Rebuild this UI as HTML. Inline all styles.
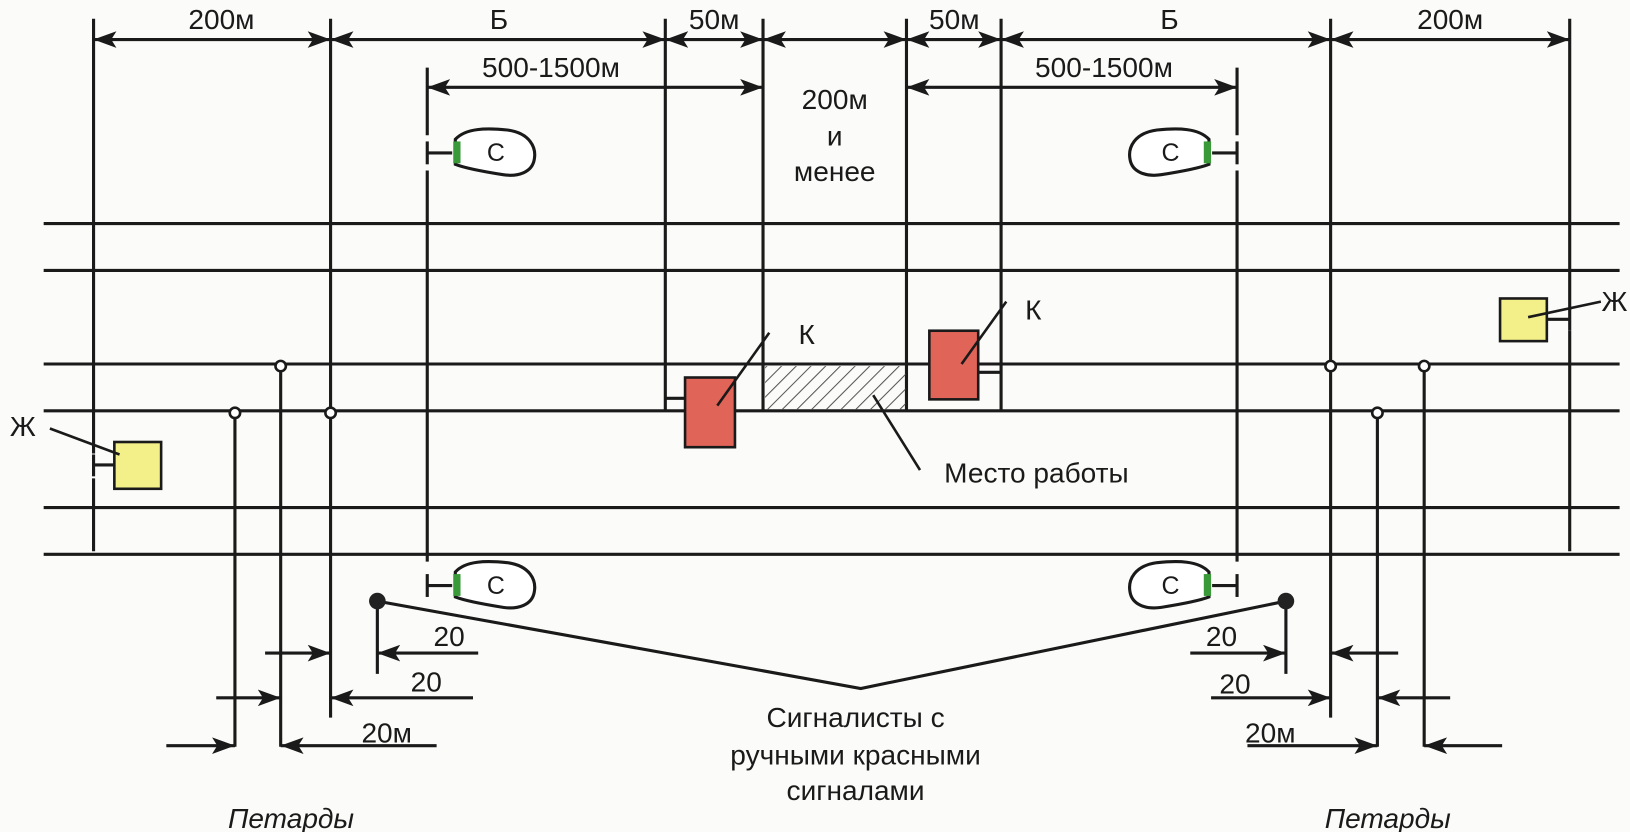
<!DOCTYPE html>
<html><head><meta charset="utf-8"><style>
html,body{margin:0;padding:0;background:#fbfbf9;}
svg{display:block;}
text{font-family:"Liberation Sans",sans-serif;fill:#1a1a1a;}
</style></head><body>
<svg width="1630" height="832" viewBox="0 0 1568 800" preserveAspectRatio="none" xmlns="http://www.w3.org/2000/svg">
<defs>
<marker id="a" viewBox="0 0 22 16" refX="22" refY="8" markerWidth="22" markerHeight="16" markerUnits="userSpaceOnUse" orient="auto-start-reverse"><path d="M0,0 L22,8 L0,16 L5,8 Z" fill="#1a1a1a"/></marker>
<pattern id="h" width="10" height="10" patternUnits="userSpaceOnUse" patternTransform="rotate(45)"><line x1="0" y1="0" x2="0" y2="10" stroke="#555" stroke-width="2"/></pattern>
<g id="sig">
<line x1="411" y1="147" x2="435" y2="147" stroke="#1a1a1a" stroke-width="3"/>
<line x1="411" y1="136" x2="411" y2="158" stroke="#1a1a1a" stroke-width="3"/>
<path d="M438,134 C448,123 468,123 488,125 C510,128 516,142 514,153 C512,166 498,170 484,168 C465,165 448,162 438,158 Z" fill="#fff" stroke="#1a1a1a" stroke-width="3"/>
<rect x="436" y="136" width="7" height="21" fill="#3a9a3a"/>
</g>
</defs>
<rect width="1568" height="800" fill="#fbfbf9"/>
<g stroke="#1a1a1a" stroke-width="3" fill="none">
<line x1="42" y1="215" x2="1558" y2="215"/>
<line x1="42" y1="260" x2="1558" y2="260"/>
<line x1="42" y1="350" x2="1558" y2="350"/>
<line x1="42" y1="395" x2="1558" y2="395"/>
<line x1="42" y1="488" x2="1558" y2="488"/>
<line x1="42" y1="533" x2="1558" y2="533"/>
<line x1="90" y1="18" x2="90" y2="436"/><line x1="90" y1="460" x2="90" y2="530"/>
<line x1="318" y1="18" x2="318" y2="690"/>
<line x1="411" y1="65" x2="411" y2="130"/><line x1="411" y1="164" x2="411" y2="540"/>
<line x1="640" y1="18" x2="640" y2="395"/>
<line x1="734" y1="18" x2="734" y2="395"/>
<line x1="872" y1="18" x2="872" y2="395"/>
<line x1="963" y1="18" x2="963" y2="395"/>
<line x1="1190" y1="65" x2="1190" y2="130"/><line x1="1190" y1="164" x2="1190" y2="540"/>
<line x1="1280" y1="18" x2="1280" y2="690"/>
<line x1="1510" y1="18" x2="1510" y2="298"/><line x1="1510" y1="318" x2="1510" y2="530"/>
<line x1="90" y1="38" x2="318" y2="38" marker-start="url(#a)" marker-end="url(#a)"/>
<line x1="318" y1="38" x2="640" y2="38" marker-start="url(#a)" marker-end="url(#a)"/>
<line x1="640" y1="38" x2="734" y2="38" marker-start="url(#a)" marker-end="url(#a)"/>
<line x1="734" y1="38" x2="872" y2="38" marker-start="url(#a)" marker-end="url(#a)"/>
<line x1="872" y1="38" x2="963" y2="38" marker-start="url(#a)" marker-end="url(#a)"/>
<line x1="963" y1="38" x2="1280" y2="38" marker-start="url(#a)" marker-end="url(#a)"/>
<line x1="1280" y1="38" x2="1510" y2="38" marker-start="url(#a)" marker-end="url(#a)"/>
<line x1="411" y1="84" x2="734" y2="84" marker-start="url(#a)" marker-end="url(#a)"/>
<line x1="872" y1="84" x2="1190" y2="84" marker-start="url(#a)" marker-end="url(#a)"/>
<line x1="640" y1="383" x2="659" y2="383"/>
<line x1="941" y1="358" x2="963" y2="358"/>
<line x1="90" y1="447" x2="110" y2="447"/>
<line x1="90" y1="437" x2="90" y2="458"/>
<line x1="1488" y1="307" x2="1510" y2="307"/>
<line x1="1510" y1="297" x2="1510" y2="318"/>
<line x1="226" y1="401" x2="226" y2="718"/>
<line x1="270" y1="357" x2="270" y2="718"/>
<line x1="1325" y1="401" x2="1325" y2="718"/>
<line x1="1370" y1="357" x2="1370" y2="718"/>
<line x1="363" y1="578" x2="363" y2="648"/>
<line x1="1237" y1="578" x2="1237" y2="648"/>
<polyline points="363,578 828,662 1237,578"/>
<line x1="255" y1="628" x2="318" y2="628" marker-end="url(#a)"/>
<line x1="460" y1="628" x2="363" y2="628" marker-end="url(#a)"/>
<line x1="208" y1="671" x2="270" y2="671" marker-end="url(#a)"/>
<line x1="455" y1="671" x2="318" y2="671" marker-end="url(#a)"/>
<line x1="160" y1="717" x2="226" y2="717" marker-end="url(#a)"/>
<line x1="420" y1="717" x2="270" y2="717" marker-end="url(#a)"/>
<line x1="1145" y1="628" x2="1237" y2="628" marker-end="url(#a)"/>
<line x1="1345" y1="628" x2="1280" y2="628" marker-end="url(#a)"/>
<line x1="1165" y1="671" x2="1280" y2="671" marker-end="url(#a)"/>
<line x1="1395" y1="671" x2="1325" y2="671" marker-end="url(#a)"/>
<line x1="1200" y1="717" x2="1325" y2="717" marker-end="url(#a)"/>
<line x1="1445" y1="717" x2="1370" y2="717" marker-end="url(#a)"/>
</g>
<g fill="#fff" stroke="#1a1a1a" stroke-width="2.5">
<circle cx="270" cy="352" r="5"/><circle cx="226" cy="397" r="5"/><circle cx="318" cy="397" r="5"/>
<circle cx="1280" cy="352" r="5"/><circle cx="1370" cy="352" r="5"/><circle cx="1325" cy="397" r="5"/>
</g>
<circle cx="363" cy="578" r="8" fill="#222"/>
<circle cx="1237" cy="578" r="8" fill="#222"/>
<rect x="736" y="352" width="135" height="42" fill="url(#h)"/>
<line x1="840" y1="380" x2="885" y2="452" stroke="#1a1a1a" stroke-width="2.5"/>
<rect x="659" y="363" width="48" height="67" fill="#e06458" stroke="#1a1a1a" stroke-width="2.5"/>
<rect x="894" y="318" width="47" height="66" fill="#e06458" stroke="#1a1a1a" stroke-width="2.5"/>
<line x1="690" y1="390" x2="740" y2="320" stroke="#1a1a1a" stroke-width="2.5"/>
<line x1="925" y1="350" x2="968" y2="290" stroke="#1a1a1a" stroke-width="2.5"/>
<rect x="110" y="425" width="45" height="45" fill="#f3f08a" stroke="#1a1a1a" stroke-width="2.5"/>
<rect x="1443" y="287" width="45" height="41" fill="#f3f08a" stroke="#1a1a1a" stroke-width="2.5"/>
<line x1="48" y1="412" x2="115" y2="437" stroke="#1a1a1a" stroke-width="2.5"/>
<line x1="1470" y1="305" x2="1540" y2="290" stroke="#1a1a1a" stroke-width="2.5"/>
<use href="#sig"/>
<use href="#sig" transform="translate(0,416)"/>
<use href="#sig" transform="translate(1601,0) scale(-1,1)"/>
<use href="#sig" transform="translate(1601,416) scale(-1,1)"/>
<g font-size="24" text-anchor="middle">
<text x="477" y="155">С</text><text x="477" y="571">С</text>
<text x="1126" y="155">С</text><text x="1126" y="571">С</text>
</g>
<g font-size="27" text-anchor="middle">
<text x="213" y="28">200м</text>
<text x="480" y="28">Б</text>
<text x="687" y="28">50м</text>
<text x="918" y="28">50м</text>
<text x="1125" y="28">Б</text>
<text x="1395" y="28">200м</text>
<text x="530" y="74">500-1500м</text>
<text x="1062" y="74">500-1500м</text>
<text x="803" y="105">200м</text>
<text x="803" y="140">и</text>
<text x="803" y="174">менее</text>
<text x="776" y="331">К</text>
<text x="994" y="307">К</text>
<text x="22" y="419">Ж</text>
<text x="1553" y="299">Ж</text>
<text x="432" y="621">20</text>
<text x="410" y="665">20</text>
<text x="372" y="714">20м</text>
<text x="1175" y="621">20</text>
<text x="1188" y="667">20</text>
<text x="1222" y="714">20м</text>
<text x="997" y="464">Место работы</text>
<text x="823" y="699">Сигналисты с</text>
<text x="823" y="735">ручными красными</text>
<text x="823" y="769">сигналами</text>
<text x="280" y="796" font-style="italic">Петарды</text>
<text x="1335" y="796" font-style="italic">Петарды</text>
</g>
</svg>
</body></html>
